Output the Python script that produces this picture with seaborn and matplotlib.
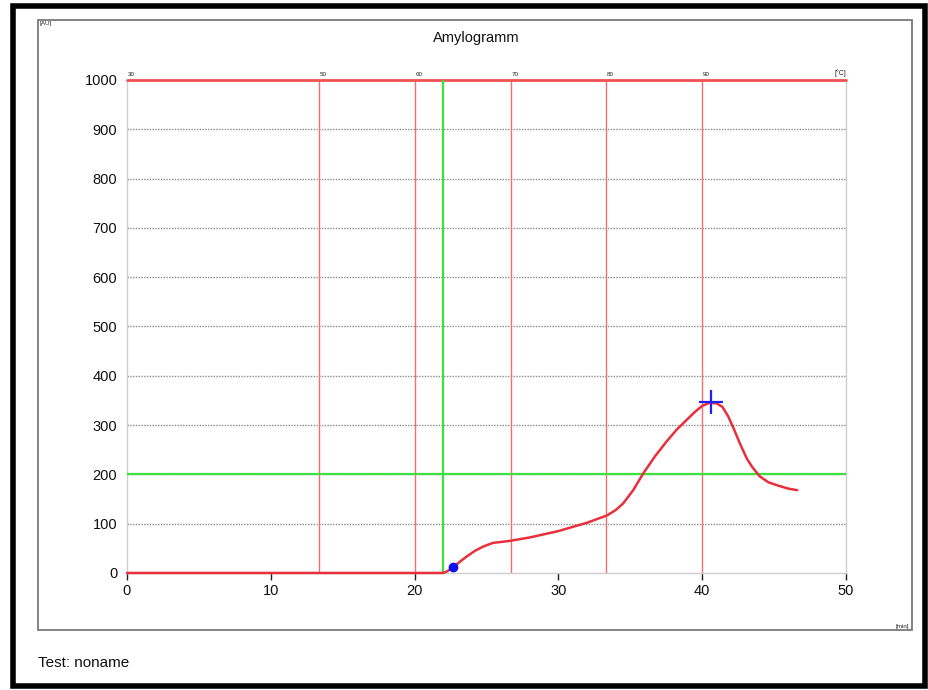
import matplotlib
matplotlib.use("Agg")
import matplotlib.pyplot as plt
from matplotlib.patches import Rectangle
import pandas as pd
import seaborn as sns

# Viscosity curve of the amylograph run
time_min = [0, 5, 10, 15, 20, 22.0, 22.3, 22.7, 23.2, 23.6, 24.2, 24.8, 25.45, 26.6,
            28.0, 30.0, 32.0, 33.4, 34.0, 34.5, 35.2, 35.9, 36.7, 37.5, 38.2, 38.9,
            39.5, 40.0, 40.5, 41.0, 41.4, 41.8, 42.2, 42.6, 43.1, 43.5, 44.0, 44.6,
            45.3, 46.0, 46.6]
viscosity_au = [0, 0, 0, 0, 0, 0, 4, 12, 24, 33, 45, 54, 61, 65,
                72, 85, 102, 117, 128, 141, 168, 202, 236, 266, 290, 310,
                327, 339, 345, 344, 337, 318, 292, 264, 232, 214, 196, 184,
                177, 171, 168]

# Temperature markers (heating programme)
temp_labels = ["30", "50", "60", "70", "80", "90"]
temp_times = [0, 13.33, 20.0, 26.67, 33.33, 40.0]

# Gelatinisation start and maximum
start_point = (22.7, 12)
peak_point = (40.6, 346)
onset_time = 22.0
threshold_au = 200

x_ticks = [0, 10, 20, 30, 40, 50]
y_ticks = [0, 100, 200, 300, 400, 500, 600, 700, 800, 900, 1000]

sns.set_theme(style="white")
plt.rcParams["font.family"] = ["Liberation Sans", "DejaVu Sans"]

fig = plt.figure(figsize=(9.29, 6.90), dpi=100)
ax = fig.add_axes([0.1367, 0.1696, 0.774, 0.7145])

# outer black frame and inner grey panel
fig.patches.append(Rectangle((0.0145, 0.006), 0.981, 0.986, transform=fig.transFigure,
                             fill=False, edgecolor="black", linewidth=4.0, zorder=0))
fig.patches.append(Rectangle((0.0409, 0.087), 0.9408, 0.884, transform=fig.transFigure,
                             fill=False, edgecolor="#7a7a7a", linewidth=1.3, zorder=0))

ax.set_xlim(0, 50)
ax.set_ylim(0, 1000)

# dotted grey grid
for yv in y_ticks[1:-1]:
    ax.axhline(yv, color="#8c8c8c", linestyle=(0, (1, 1)), linewidth=1.0, zorder=1)

# temperature lines
for t in temp_times[1:]:
    ax.axvline(t, color="#f07070", linewidth=1.0, zorder=2)
ax.axhline(1000, color="#f05050", linewidth=2.0, zorder=3, clip_on=False)

# green markers
ax.axvline(onset_time, color="#3ee03e", linewidth=1.6, zorder=3)
ax.axhline(threshold_au, color="#3ee03e", linewidth=1.6, zorder=3)

df = pd.DataFrame({"time": time_min, "au": viscosity_au})
sns.lineplot(data=df, x="time", y="au", ax=ax, color="#e8303c", linewidth=1.8,
             zorder=4, clip_on=False)

ax.plot(*start_point, marker="o", color="#1010ee", markersize=6, zorder=5)
ax.plot(*peak_point, marker="+", color="#2020ff", markersize=17, markeredgewidth=1.6, zorder=5)

# temperature labels above the top line
for lab, t in zip(temp_labels, temp_times):
    ax.text(t + 0.05, 1006, lab, fontsize=4.5, ha="left", va="bottom", color="#222222")
ax.text(50, 1006, "[°C]", fontsize=5, ha="right", va="bottom", color="#222222")

ax.set_xticks(x_ticks)
ax.set_yticks(y_ticks)
ax.set_xticklabels([str(v) for v in x_ticks], fontsize=10.5, color="#111111")
ax.set_yticklabels([str(v) for v in y_ticks], fontsize=10.5, color="#111111")
ax.tick_params(axis="x", bottom=True, length=5, width=1, color="#222222", pad=3)
ax.tick_params(axis="y", left=False, length=0, pad=7)
ax.set_xlabel("")
ax.set_ylabel("")

for side in ["left", "right", "bottom"]:
    ax.spines[side].set_color("#cfcfcf")
    ax.spines[side].set_linewidth(1.0)
ax.spines["top"].set_visible(False)

fig.text(0.5123, 0.945, "Amylogramm", fontsize=10.5, ha="center", va="center", color="#111111")
fig.text(0.043, 0.966, "[AU]", fontsize=4.5, ha="left", va="center", color="#222222")
fig.text(0.979, 0.092, "[min]", fontsize=4.5, ha="right", va="center", color="#222222")
fig.text(0.041, 0.039, "Test: noname", fontsize=11, ha="left", va="center", color="#111111")

fig.savefig("out.png", dpi=100, facecolor="white")
